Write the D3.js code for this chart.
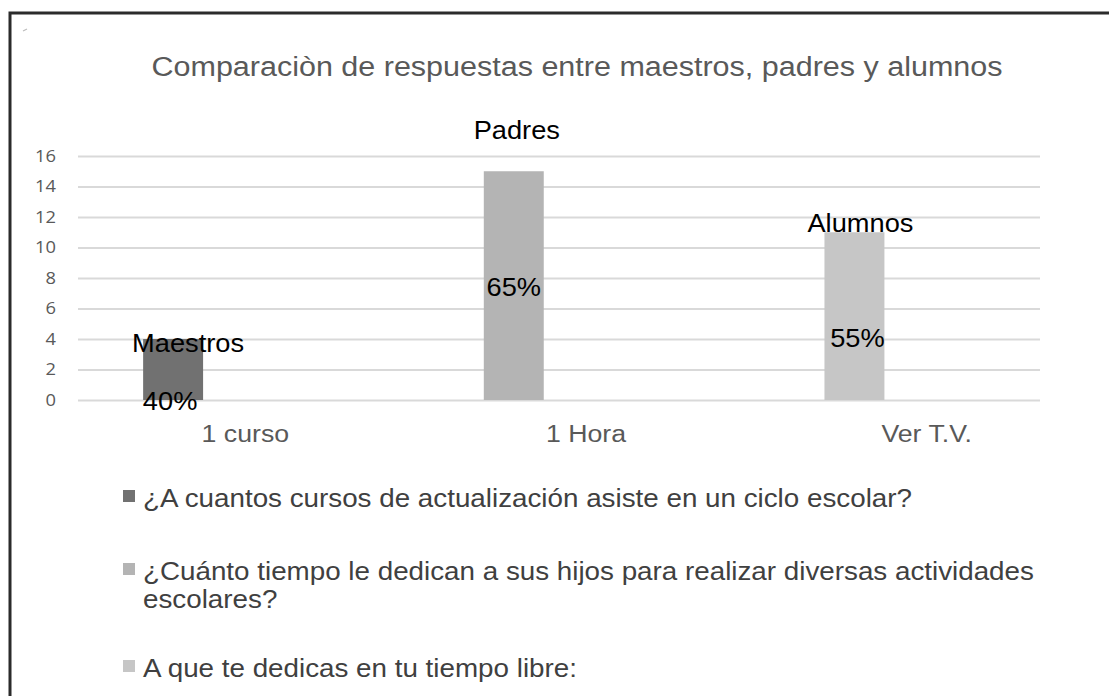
<!DOCTYPE html>
<html lang="es">
  <head>
    <meta charset="utf-8" />
    <title>Comparación de respuestas</title>
    <script src="https://d3js.org/d3.v7.min.js" charset="utf-8"></script>
    <style>
      body { margin: 0; background: #fff; }
      svg { display: block; }
    </style>
  </head>
  <body>
    <div id="graph-container"></div>
    <script type="text/javascript">
      // data
      const categories = ["1 curso", "1 Hora", "Ver T.V."];
      const seriesNames = [
        "¿A cuantos cursos de actualización asiste en un ciclo escolar?",
        "¿Cuánto tiempo le dedican a sus hijos para realizar diversas actividades|escolares?",
        "A que te dedicas en tu tiempo libre:"
      ];
      const values = [4, 15, 11];
      const nameLabels = ["Maestros", "Padres", "Alumnos"];
      const pctLabels = ["40%", "65%", "55%"];
      const yTicks = [0, 2, 4, 6, 8, 10, 12, 14, 16];

      // where each data label sits, in axis units (hand placed in the original)
      const nameLabelAt = [3.15, 17.1, 11.0];
      const pctLabelAt = [-0.65, 6.8, 3.5];
      const nameLabelDx = [15, 3, 6];
      const pctLabelDx = [-3, 0, 3];

      const cW = 1109,
        cH = 696,
        cGridLeft = 78,
        cGridRight = 1040,
        cTop = 156,
        cBottom = 400;
      // the original picture is stretched sideways a little
      const kx = 1.09;
      const sx = (v) => v / kx;
      const barColors = ["#717171", "#b4b4b4", "#c6c6c6"];
      const fontMain = "'Liberation Sans', Arial, sans-serif";

      const svg = d3
        .select("#graph-container")
        .append("svg")
        .attr("width", cW)
        .attr("height", cH);

      svg.append("rect").attr("width", cW).attr("height", cH).attr("fill", "#fff");

      // outer frame, runs off the right and bottom edge
      svg
        .append("rect")
        .attr("x", 10)
        .attr("y", 13)
        .attr("width", 1300)
        .attr("height", 900)
        .attr("fill", "none")
        .attr("stroke", "#2b2b2b")
        .attr("stroke-width", 3);

      // little leftover tick in the top-left corner
      svg
        .append("line")
        .attr("x1", 23)
        .attr("y1", 31)
        .attr("x2", 27)
        .attr("y2", 29)
        .attr("stroke", "#bbb")
        .attr("stroke-width", 1.2);

      const root = svg.append("g").attr("transform", `scale(${kx},1)`);

      root
        .append("text")
        .attr("x", sx(577))
        .attr("y", 76)
        .attr("text-anchor", "middle")
        .attr("font-family", fontMain)
        .attr("font-size", 28)
        .attr("fill", "#595959")
        .text("Comparaciòn de respuestas entre maestros, padres y alumnos");

      const yScale = d3.scaleLinear().domain([0, 16]).range([cBottom, cTop]);
      const xScale = d3
        .scaleBand()
        .domain(categories)
        .range([sx(75), sx(1097)]);

      //y axis + gridlines
      const gY = root
        .append("g")
        .attr("transform", `translate(${sx(cGridLeft)},0)`)
        .call(
          d3
            .axisLeft(yScale)
            .tickValues(yTicks)
            .tickSize(-sx(cGridRight - cGridLeft))
            .tickPadding(sx(22))
        );
      gY.select(".domain").remove();
      gY.selectAll("line").attr("stroke", "#d9d9d9").attr("stroke-width", 2);
      gY.selectAll("text")
        .attr("font-family", "'Open Sans', sans-serif")
        .attr("font-size", 16.8)
        .attr("fill", "#595959");

      //x axis labels
      const gX = root
        .append("g")
        .attr("transform", `translate(0,${cBottom})`)
        .call(d3.axisBottom(xScale).tickSize(0).tickPadding(25));
      gX.select(".domain").remove();
      gX.selectAll("text")
        .attr("font-family", fontMain)
        .attr("font-size", 24.5)
        .attr("fill", "#595959");

      const bw = xScale.bandwidth();
      const barX = (d, i) => xScale(categories[i]) + bw * 0.2;
      const barW = bw * 0.176;

      root
        .selectAll("rect.bar")
        .data(values)
        .enter()
        .append("rect")
        .attr("class", "bar")
        .attr("x", barX)
        .attr("y", (d) => yScale(d))
        .attr("width", barW)
        .attr("height", (d) => yScale(0) - yScale(d))
        .attr("fill", (d, i) => barColors[i]);

      //data labels
      root
        .selectAll("text.name")
        .data(nameLabels)
        .enter()
        .append("text")
        .attr("class", "name")
        .attr("x", (d, i) => barX(d, i) + barW / 2 + sx(nameLabelDx[i]))
        .attr("y", (d, i) => yScale(nameLabelAt[i]))
        .attr("text-anchor", "middle")
        .attr("font-family", fontMain)
        .attr("font-size", 25)
        .attr("fill", "#000")
        .text((d) => d);

      root
        .selectAll("text.pct")
        .data(pctLabels)
        .enter()
        .append("text")
        .attr("class", "pct")
        .attr("x", (d, i) => barX(d, i) + barW / 2 + sx(pctLabelDx[i]))
        .attr("y", (d, i) => yScale(pctLabelAt[i]))
        .attr("text-anchor", "middle")
        .attr("font-family", fontMain)
        .attr("font-size", 25)
        .attr("fill", "#000")
        .text((d) => d);

      //legend
      const legendY = [507, 580, 677];
      const legend = root
        .selectAll("g.legend")
        .data(seriesNames)
        .enter()
        .append("g")
        .attr("class", "legend")
        .attr("transform", (d, i) => `translate(${sx(123)},${legendY[i]})`);

      legend
        .append("rect")
        .attr("x", 0)
        .attr("y", -17)
        .attr("width", sx(12))
        .attr("height", 12)
        .attr("fill", (d, i) => barColors[i]);

      legend
        .append("text")
        .attr("font-family", fontMain)
        .attr("font-size", 25.5)
        .attr("fill", "#404040")
        .selectAll("tspan")
        .data((d) => d.split("|"))
        .enter()
        .append("tspan")
        .attr("x", sx(20))
        .attr("dy", (d, i) => (i === 0 ? 0 : 28))
        .text((d) => d);
    </script>
  </body>
</html>
